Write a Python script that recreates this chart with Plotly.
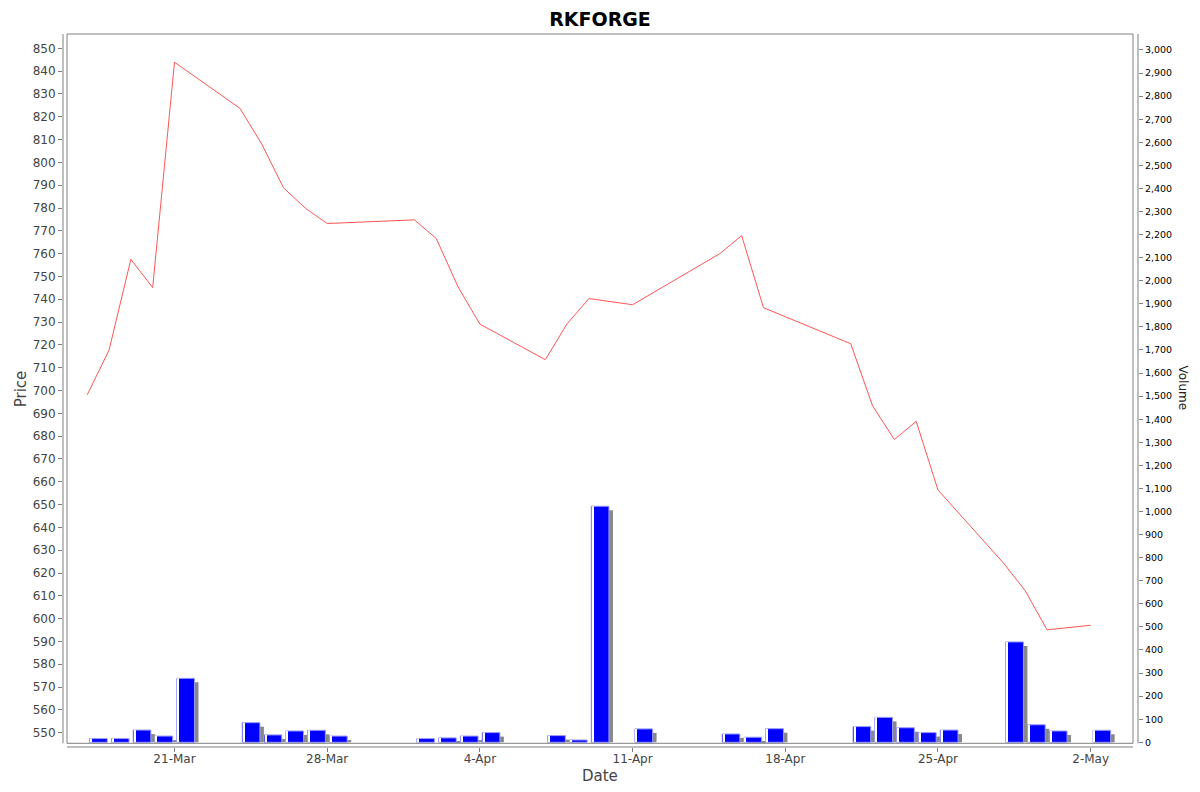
import pandas as pd
import plotly.graph_objects as go

# trading days shown on the chart
dates = ['2025-03-17', '2025-03-18', '2025-03-19', '2025-03-20', '2025-03-21',
         '2025-03-24', '2025-03-25', '2025-03-26', '2025-03-27', '2025-03-28',
         '2025-04-01', '2025-04-02', '2025-04-03', '2025-04-04',
         '2025-04-07', '2025-04-08', '2025-04-09', '2025-04-11',
         '2025-04-15', '2025-04-16', '2025-04-17',
         '2025-04-21', '2025-04-22', '2025-04-23', '2025-04-24', '2025-04-25',
         '2025-04-28', '2025-04-29', '2025-04-30', '2025-05-02']

prices = [698.1, 717.7, 757.5, 745.1, 843.9,
          823.7, 808.0, 788.8, 779.9, 773.2,
          774.8, 766.6, 745.4, 729.1,
          713.5, 729.3, 740.3, 737.6,
          760.0, 767.9, 736.3,
          720.5, 693.3, 678.5, 686.5, 656.4,
          624.4, 612.2, 595.1, 597.1]

volumes = [16, 16, 53, 27, 277,
           85, 32, 49, 52, 27,
           16, 19, 27, 42,
           29, 10, 1023, 58,
           36, 22, 59,
           68, 108, 63, 42, 53,
           435, 76, 49, 52]

x = pd.to_datetime(dates)

DAY = 86400000  # ms
PX_PER_DAY = 21.814
VOL_PX = 0.23077  # pixels per volume unit

bar_off = 0.105 * DAY
bar_w = 0.811 * DAY
shadow_off = bar_off + 4 / PX_PER_DAY * DAY
shadow_h = [max(v - 4 / VOL_PX, 0) for v in volumes]

# the page body adds an 8px margin, so the figure is drawn 8px smaller
W, H = 1192, 784

fig = go.Figure()

# shadow of the volume bars
fig.add_trace(go.Bar(x=x, y=shadow_h, yaxis='y2', offset=shadow_off, width=bar_w,
                     marker=dict(color='#888888', line=dict(width=0)),
                     hoverinfo='skip', showlegend=False))
# volume bars
fig.add_trace(go.Bar(x=x, y=volumes, yaxis='y2', offset=bar_off, width=bar_w,
                     marker=dict(color='#0000ff', line=dict(color='#9a9aff', width=1)),
                     name='Volume', showlegend=False))
# thin highlight near the left edge of each bar
fig.add_trace(go.Bar(x=x, y=volumes, yaxis='y2',
                     offset=bar_off + 1 / PX_PER_DAY * DAY, width=1 / PX_PER_DAY * DAY,
                     marker=dict(color='#ffffff', line=dict(width=0)),
                     hoverinfo='skip', showlegend=False))
# price line
fig.add_trace(go.Scatter(x=x, y=prices, mode='lines', yaxis='y',
                         line=dict(color='#ff5555', width=1),
                         name='Price', showlegend=False))

tick_font = dict(family='DejaVu Sans', size=12, color='#444444')
grey = '#808080'

fig.update_layout(
    template='none',
    width=W, height=H,
    barmode='overlay',
    plot_bgcolor='white',
    paper_bgcolor='white',
    margin=dict(l=55, r=62, t=26, b=45, autoexpand=False),
    title=dict(text='<b>RKFORGE</b>', x=(600 - 8) / W, xanchor='center',
               y=1 - 11 / H, yref='container', yanchor='middle',
               font=dict(family='DejaVu Sans', size=19, color='black')),
    xaxis=dict(type='date', range=['2025-03-15 21:20', '2025-05-04 04:03'],
               tick0='2025-03-21', dtick=7 * DAY, tickformat='%-d-%b',
               showgrid=False, zeroline=False, showline=False, automargin=False,
               ticks='outside', ticklen=4, tickcolor=grey, tickfont=tick_font,
               ticklabelstandoff=-3),
    yaxis=dict(range=[543.73, 856.27], tick0=550, dtick=10,
               showgrid=False, zeroline=False, showline=False, automargin=False,
               ticks='outside', ticklen=4, tickcolor=grey, tickfont=tick_font),
    yaxis2=dict(overlaying='y', side='right', range=[-20.4, 3069.3],
                tick0=0, dtick=100, tickformat=',d',
                showgrid=False, zeroline=False, showline=False, automargin=False,
                ticks='outside', ticklen=4, tickcolor=grey,
                tickfont=dict(family='DejaVu Sans', size=9.5, color='black')),
)

# plot outline and the offset axis lines
fig.add_shape(type='rect', xref='paper', yref='paper',
              x0=4 / 1075, x1=1070 / 1075, y0=3.7 / 713, y1=1,
              line=dict(color=grey, width=1))
fig.add_shape(type='line', xref='paper', yref='paper', x0=0, x1=0,
              y0=3.7 / 713, y1=1, line=dict(color=grey, width=1))
fig.add_shape(type='line', xref='paper', yref='paper', x0=1, x1=1,
              y0=3.7 / 713, y1=1, line=dict(color=grey, width=1))
fig.add_shape(type='line', xref='paper', yref='paper', x0=4 / 1075, x1=1070 / 1075,
              y0=0, y1=0, line=dict(color=grey, width=1))

# axis titles
fig.add_annotation(text='Price', xref='paper', yref='paper',
                   x=(20.5 - 63) / 1075, y=(747 - 388.8) / 713, textangle=-90,
                   xanchor='center', yanchor='middle',
                   showarrow=False, font=dict(family='DejaVu Sans', size=15, color='#444444'))
fig.add_annotation(text='Volume', xref='paper', yref='paper',
                   x=(1182.5 - 63) / 1075, y=(747 - 388) / 713, textangle=90,
                   xanchor='center', yanchor='middle',
                   showarrow=False, font=dict(family='DejaVu Sans', size=12, color='#222222'))
fig.add_annotation(text='Date', xref='paper', yref='paper',
                   x=(599.5 - 63) / 1075, y=(747 - 775.7) / 713,
                   xanchor='center', yanchor='middle',
                   showarrow=False, font=dict(family='DejaVu Sans', size=15, color='#444444'))

fig.write_html("out.html")
